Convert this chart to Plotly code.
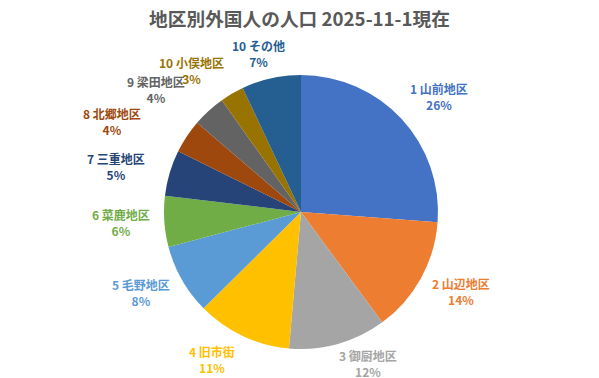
import math
import plotly.graph_objects as go

# ---- data ----
districts = ["1 山前地区", "2 山辺地区", "3 御厨地区", "4 旧市街", "5 毛野地区",
             "6 菜鹿地区", "7 三重地区", "8 北郷地区", "9 梁田地区", "10 小俣地区", "10 その他"]
shares = [26.2, 13.7, 11.5, 11.2, 8.3, 6.0, 5.4, 4.0, 3.9, 2.8, 7.0]

# ---- style ----
colors = ["#4472C4", "#ED7D31", "#A5A5A5", "#FFC000", "#5B9BD5", "#70AD47",
          "#264478", "#9E480E", "#636363", "#997300", "#255E91"]
# small per-label nudges (px) mimicking Excel's collision adjustments
nudge_x = [5, 2, 18, -14, -3, 1, -12, -38, -23, -17, -4]
nudge_y = [-4, 0, -6, -1, -1, -1, 1, 0, -1, 0, 2]

W, H = 599, 378
ML, MR, MT, MB = 3, 0, 75, 29
R = min(W - ML - MR, H - MT - MB) / 2.0
FONT = "Noto Sans CJK JP, Noto Sans, sans-serif"

fig = go.Figure(go.Pie(
    labels=districts,
    values=shares,
    sort=False,
    direction="clockwise",
    rotation=0,
    marker=dict(colors=colors, line=dict(width=0)),
    textinfo="none",
    hoverinfo="label+percent",
    showlegend=False,
))

total = sum(shares)
cum = 0.0
annotations = []
for i, (lab, v) in enumerate(zip(districts, shares)):
    mid = (cum + v / 2.0) / total * 2 * math.pi
    cum += v
    ux, uy = math.sin(mid), -math.cos(mid)  # uy positive = downward
    pct = int(v / total * 100 + 0.5)
    n_cjk = sum(1 for ch in lab if ord(ch) > 0x2E80)
    w = 12 * n_cjk + 7 * (len(lab) - n_cjk) + 10
    h = 38
    rr = R + 8
    cx = rr * ux + w / 2.0 * ux + nudge_x[i]
    cy = rr * uy + h / 2.0 * uy + nudge_y[i]
    annotations.append(dict(
        x=0.5, y=0.5, xref="paper", yref="paper",
        xshift=cx, yshift=-cy,
        xanchor="center", yanchor="middle",
        text=f"<b>{lab}</b><br><b>{pct}%</b>",
        showarrow=False, align="center",
        font=dict(family=FONT, size=12, color=colors[i]),
    ))

fig.update_layout(
    width=W, height=H,
    margin=dict(l=ML, r=MR, t=MT, b=MB),
    paper_bgcolor="white", plot_bgcolor="white",
    title=dict(text="<b>地区別外国人の人口 2025-11-1現在</b>",
               x=0.5, xanchor="center", y=1 - 19 / H, yanchor="middle",
               yref="container",
               font=dict(family=FONT, size=18.7, color="#595959")),
    annotations=annotations,
)

fig.write_html("out.html",
               config={"displayModeBar": False},
               post_script="document.body.style.margin='0';document.body.style.overflow='hidden';")
